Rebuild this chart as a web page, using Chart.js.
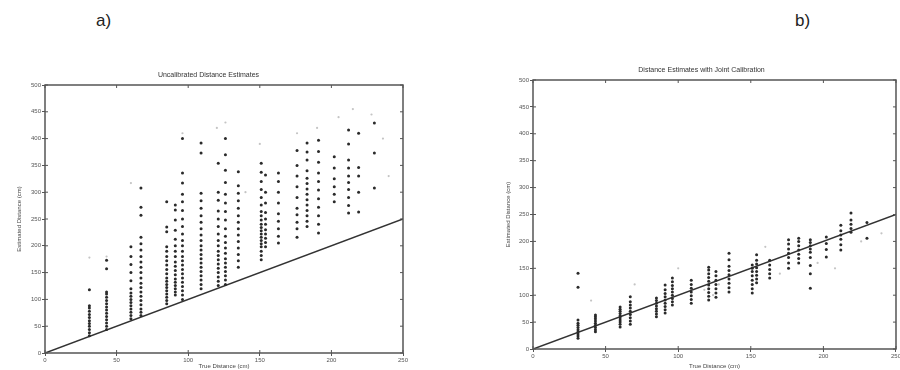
<!DOCTYPE html>
<html>
<head>
<meta charset="utf-8">
<script src="https://cdn.jsdelivr.net/npm/chart.js@4.4.1/dist/chart.umd.min.js"></script>
<style>
  body { margin: 0; background: #fff; }
  #wrap { position: relative; width: 900px; height: 370px; overflow: hidden; font-family: "Liberation Sans", Arial, sans-serif; }
  .panel { position: absolute; top: 0; height: 370px; }
  .tag { position: absolute; top: 11px; font-size: 17px; color: #222; }
</style>
</head>
<body>
<div id="wrap">
  <div class="tag" style="left:96px">a)</div>
  <div class="tag" style="left:795px">b)</div>
  <div class="panel" style="left:0;width:420px"><canvas id="uncalChart" width="420" height="370"></canvas></div>
  <div class="panel" style="left:490px;width:412px"><canvas id="calChart" width="412" height="370"></canvas></div>
</div>
<script>
// true distances (cm) of the measurement columns
const trueDistances = [31, 43, 60, 67, 85, 91, 96, 109, 121, 126, 135, 151, 154, 163, 176, 183, 191, 202, 212, 219, 230];

// a) uncalibrated estimates, one list per column
const uncalibrated = [
  [32, 38, 44, 50, 55, 60, 66, 72, 78, 84, 88, 118],
  [44, 50, 56, 62, 68, 74, 80, 86, 92, 98, 104, 110, 114, 157, 173],
  [64, 70, 76, 82, 88, 94, 100, 106, 112, 120, 135, 150, 165, 180, 198],
  [70, 76, 82, 90, 98, 106, 114, 122, 130, 140, 150, 160, 170, 180, 192, 204, 216, 257, 272, 308],
  [92, 98, 104, 110, 116, 122, 128, 134, 140, 148, 156, 164, 172, 180, 190, 198, 226, 235, 282],
  [108, 114, 120, 126, 132, 138, 146, 154, 162, 170, 180, 190, 200, 212, 229, 248, 267, 276],
  [100, 108, 116, 124, 132, 140, 148, 156, 164, 172, 180, 190, 200, 210, 222, 236, 250, 266, 282, 296, 317, 336, 400],
  [120, 128, 136, 144, 152, 160, 168, 176, 184, 192, 200, 210, 220, 232, 244, 256, 270, 284, 298, 373, 392],
  [126, 134, 142, 150, 158, 166, 174, 182, 190, 200, 210, 222, 236, 250, 265, 285, 300, 354],
  [128, 136, 144, 152, 160, 168, 176, 186, 196, 206, 218, 232, 248, 264, 280, 296, 318, 341, 370, 400],
  [160, 172, 184, 196, 208, 220, 232, 244, 256, 270, 284, 298, 312, 338],
  [174, 182, 190, 198, 204, 210, 216, 222, 228, 234, 240, 248, 256, 264, 276, 290, 305, 320, 337, 354],
  [198, 206, 214, 222, 230, 240, 250, 262, 280, 300, 332],
  [205, 218, 232, 246, 260, 280, 300, 320, 336],
  [216, 232, 244, 258, 270, 290, 310, 330, 350, 378],
  [236, 246, 256, 266, 276, 286, 296, 306, 316, 326, 340, 360, 375, 392],
  [224, 240, 256, 272, 288, 304, 320, 336, 356, 376, 397],
  [282, 296, 310, 325, 345, 366],
  [261, 275, 290, 305, 318, 330, 345, 360, 390, 416],
  [263, 300, 330, 346, 410],
  [308, 373, 429]
];
// a) faint points
const uncalFaintX = [31, 60, 43, 96, 126, 150, 176, 190, 205, 215, 228, 236, 240, 120, 140];
const uncalFaintY = [178, 317, 180, 410, 430, 390, 410, 420, 440, 455, 445, 400, 330, 420, 300];

// b) jointly calibrated estimates, one list per column
const calibrated = [
  [20, 24, 28, 32, 36, 40, 44, 48, 54, 115, 141],
  [32, 36, 40, 44, 48, 52, 56, 60, 63],
  [41, 46, 50, 54, 58, 62, 66, 70, 74, 78],
  [46, 52, 58, 64, 70, 76, 82, 88, 97],
  [60, 65, 70, 75, 80, 85, 90, 95],
  [67, 73, 79, 85, 91, 97, 103, 110, 119],
  [82, 88, 94, 100, 106, 112, 118, 125, 132],
  [85, 92, 99, 106, 113, 120, 128],
  [91, 98, 105, 112, 119, 126, 133, 140, 147, 152],
  [96, 104, 112, 120, 128, 136, 144],
  [106, 114, 122, 130, 138, 146, 154, 166, 178],
  [104, 112, 120, 128, 136, 144, 150, 156],
  [123, 130, 137, 144, 151, 158, 165, 175],
  [132, 140, 148, 156, 165],
  [150, 160, 170, 178, 186, 195, 203],
  [160, 168, 176, 184, 192, 200, 206],
  [113, 140, 155, 170, 180, 186, 192, 198, 203],
  [171, 185, 196, 208],
  [184, 194, 204, 212, 220, 230],
  [217, 224, 232, 240, 253],
  [206, 235]
];
// b) faint points
const calFaintX = [40, 70, 100, 118, 124, 128, 160, 170, 196, 208, 226, 240];
const calFaintY = [90, 120, 150, 110, 100, 120, 190, 140, 160, 150, 200, 215];

const idealLine = [0, 250];
const xTicksMax = 250;
const yTicksMax = 500;

function toPoints(xs, cols) {
  let pts = [];
  xs.forEach((x, i) => cols[i].forEach(y => pts.push({ x: x, y: y })));
  return pts;
}
function pairPoints(xs, ys) {
  return xs.map((x, i) => ({ x: x, y: ys[i] }));
}

// box round the plot area with small ticks on all four sides (matlab style)
const framePlugin = {
  id: 'frame',
  afterDraw(chart) {
    const a = chart.chartArea, ctx = chart.ctx;
    const xs = chart.scales.x, ys = chart.scales.y;
    ctx.save();
    ctx.strokeStyle = '#555';
    ctx.lineWidth = 1.5;
    ctx.strokeRect(a.left, a.top, a.right - a.left, a.bottom - a.top);
    ctx.lineWidth = 1;
    ctx.beginPath();
    xs.ticks.forEach(t => {
      const px = xs.getPixelForValue(t.value);
      ctx.moveTo(px, a.top); ctx.lineTo(px, a.top + 3);
      ctx.moveTo(px, a.bottom); ctx.lineTo(px, a.bottom - 3);
    });
    ys.ticks.forEach(t => {
      const py = ys.getPixelForValue(t.value);
      ctx.moveTo(a.right, py); ctx.lineTo(a.right - 3, py);
      ctx.moveTo(a.left, py); ctx.lineTo(a.left + 3, py);
    });
    ctx.stroke();
    ctx.restore();
  }
};

function makeChart(id, title, cols, faintX, faintY, lay) {
  const tickFont = { size: 6, family: '"Liberation Sans", Arial' };
  return new Chart(document.getElementById(id), {
    type: 'scatter',
    data: {
      datasets: [
        {
          label: 'faint',
          data: pairPoints(faintX, faintY),
          backgroundColor: '#c4c4c4',
          borderWidth: 0,
          pointRadius: 1.1
        },
        {
          label: 'estimates',
          data: toPoints(trueDistances, cols),
          backgroundColor: '#2a2a2a',
          borderWidth: 0,
          pointRadius: 1.5
        },
        {
          type: 'line',
          label: 'true',
          data: idealLine.map(v => ({ x: v, y: v })),
          borderColor: '#333',
          borderWidth: 1.6,
          pointRadius: 0,
          fill: false
        }
      ]
    },
    options: {
      responsive: false,
      animation: false,
      events: [],
      layout: { padding: { left: lay.left, right: lay.right, top: 0, bottom: 0 } },
      plugins: {
        legend: { display: false },
        tooltip: { enabled: false },
        title: {
          display: true,
          text: title,
          color: '#333',
          font: { size: 7, weight: 'normal', family: '"Liberation Sans", Arial', lineHeight: 1 },
          padding: { top: lay.titleTop, bottom: 6 }
        }
      },
      scales: {
        x: {
          type: 'linear',
          min: 0, max: xTicksMax,
          ticks: { stepSize: 50, color: '#555', font: tickFont, padding: 1, maxRotation: 0 },
          grid: { drawOnChartArea: false, tickLength: 3, color: '#555' },
          border: { display: false },
          title: { display: true, text: 'True Distance (cm)', color: '#444', font: tickFont, padding: 0 },
          afterFit(s) { s.height = lay.xh; }
        },
        y: {
          type: 'linear',
          min: 0, max: yTicksMax,
          ticks: { stepSize: 50, color: '#555', font: tickFont, padding: 1 },
          grid: { drawOnChartArea: false, tickLength: 3, color: '#555' },
          border: { display: false },
          title: { display: true, text: 'Estimated Distance (cm)', color: '#444', font: tickFont, padding: 2 },
          afterFit(s) { s.width = lay.yw; }
        }
      }
    },
    plugins: [framePlugin]
  });
}

document.addEventListener('DOMContentLoaded', function() {
  makeChart('uncalChart', 'Uncalibrated Distance Estimates', uncalibrated, uncalFaintX, uncalFaintY,
    { left: 14, right: 17, titleTop: 72, yw: 31, xh: 17 });
  makeChart('calChart', 'Distance Estimates with Joint Calibration', calibrated, calFaintX, calFaintY,
    { left: 13, right: 2, titleTop: 67, yw: 30, xh: 21 });
});
</script>
</body>
</html>
